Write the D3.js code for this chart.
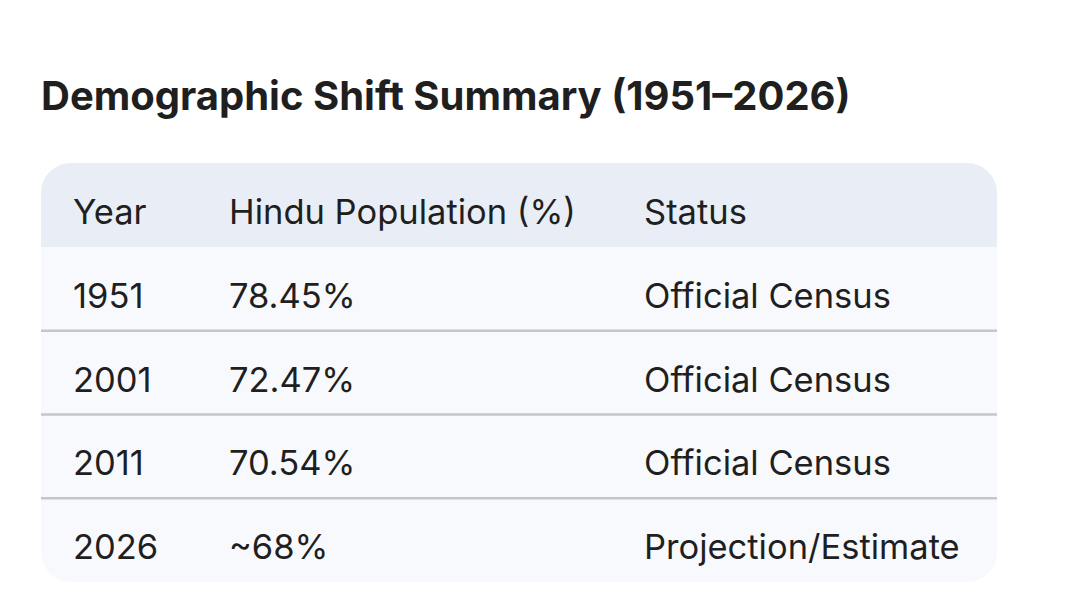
<!DOCTYPE html>
<html>
<head>
<meta charset="utf-8">
<script src="https://cdn.jsdelivr.net/npm/d3@7"></script>
<style>
  body { margin: 0; background: #ffffff; }
  svg text { font-family: Inter, "Noto Sans", sans-serif; fill: #1f1f1f; }
</style>
</head>
<body>
<div id="chart"></div>
<script>
// Data
var title = 'Demographic Shift Summary (1951\u20132026)';
var headers = ['Year', 'Hindu Population (%)', 'Status'];
var years = ['1951', '2001', '2011', '2026'];
var hinduShare = ['78.45%', '72.47%', '70.54%', '~68%'];
var statuses = ['Official Census', 'Official Census', 'Official Census', 'Projection/Estimate'];

// Size
var width = 1079;
var height = 608;

var tableLeft = 41, tableRight = 997;
var tableTop = 163, headerH = 84, tableBottom = 582;
var radius = 30;
var FONT = 34.5;
var TEXT_DY = '0.55em';

var svg = d3.select('#chart').append('svg')
  .attr('width', width)
  .attr('height', height);

// title
svg.append('text')
  .attr('x', 41)
  .attr('y', 110)
  .attr('font-size', 40)
  .attr('font-weight', 700)
  .text(title);

// rows scale
var rowIndex = d3.range(years.length);
var y = d3.scaleBand()
  .domain(rowIndex)
  .range([tableTop + headerH, tableBottom]);

// columns
var x = d3.scaleOrdinal()
  .domain([0, 1, 2])
  .range([73, 229, 644]);

// clip for rounded table
svg.append('clipPath').attr('id', 'tableClip')
  .append('rect')
  .attr('x', tableLeft)
  .attr('y', tableTop)
  .attr('width', tableRight - tableLeft)
  .attr('height', tableBottom - tableTop)
  .attr('rx', radius);

var table = svg.append('g').attr('clip-path', 'url(#tableClip)');

table.append('rect')
  .attr('x', tableLeft)
  .attr('y', tableTop)
  .attr('width', tableRight - tableLeft)
  .attr('height', tableBottom - tableTop)
  .attr('fill', '#f8f9fd');

table.append('rect')
  .attr('x', tableLeft)
  .attr('y', tableTop)
  .attr('width', tableRight - tableLeft)
  .attr('height', headerH)
  .attr('fill', '#e9eef6');

// header labels
svg.selectAll('.header')
  .data(headers)
  .join('text')
  .attr('class', 'header')
  .attr('x', (d, i) => x(i))
  .attr('y', tableTop + headerH / 2)
  .attr('dy', TEXT_DY)
  .attr('font-size', FONT)
  .text(d => d);

// separators between body rows
table.selectAll('.sep')
  .data(rowIndex.slice(1))
  .join('line')
  .attr('class', 'sep')
  .attr('x1', tableLeft)
  .attr('x2', tableRight)
  .attr('y1', d => y(d))
  .attr('y2', d => y(d))
  .attr('stroke', '#c4c7c5')
  .attr('stroke-width', 2.5);

// body rows
var rows = svg.selectAll('.row')
  .data(rowIndex)
  .join('g')
  .attr('class', 'row')
  .attr('transform', d => 'translate(0,' + (y(d) + y.bandwidth() / 2) + ')');

rows.append('text')
  .attr('x', x(0))
  .attr('dy', TEXT_DY)
  .attr('font-size', FONT)
  .text(d => years[d]);

rows.append('text')
  .attr('x', x(1))
  .attr('dy', TEXT_DY)
  .attr('font-size', FONT)
  .text(d => hinduShare[d]);

rows.append('text')
  .attr('x', x(2))
  .attr('dy', TEXT_DY)
  .attr('font-size', FONT)
  .text(d => statuses[d]);
</script>
</body>
</html>
